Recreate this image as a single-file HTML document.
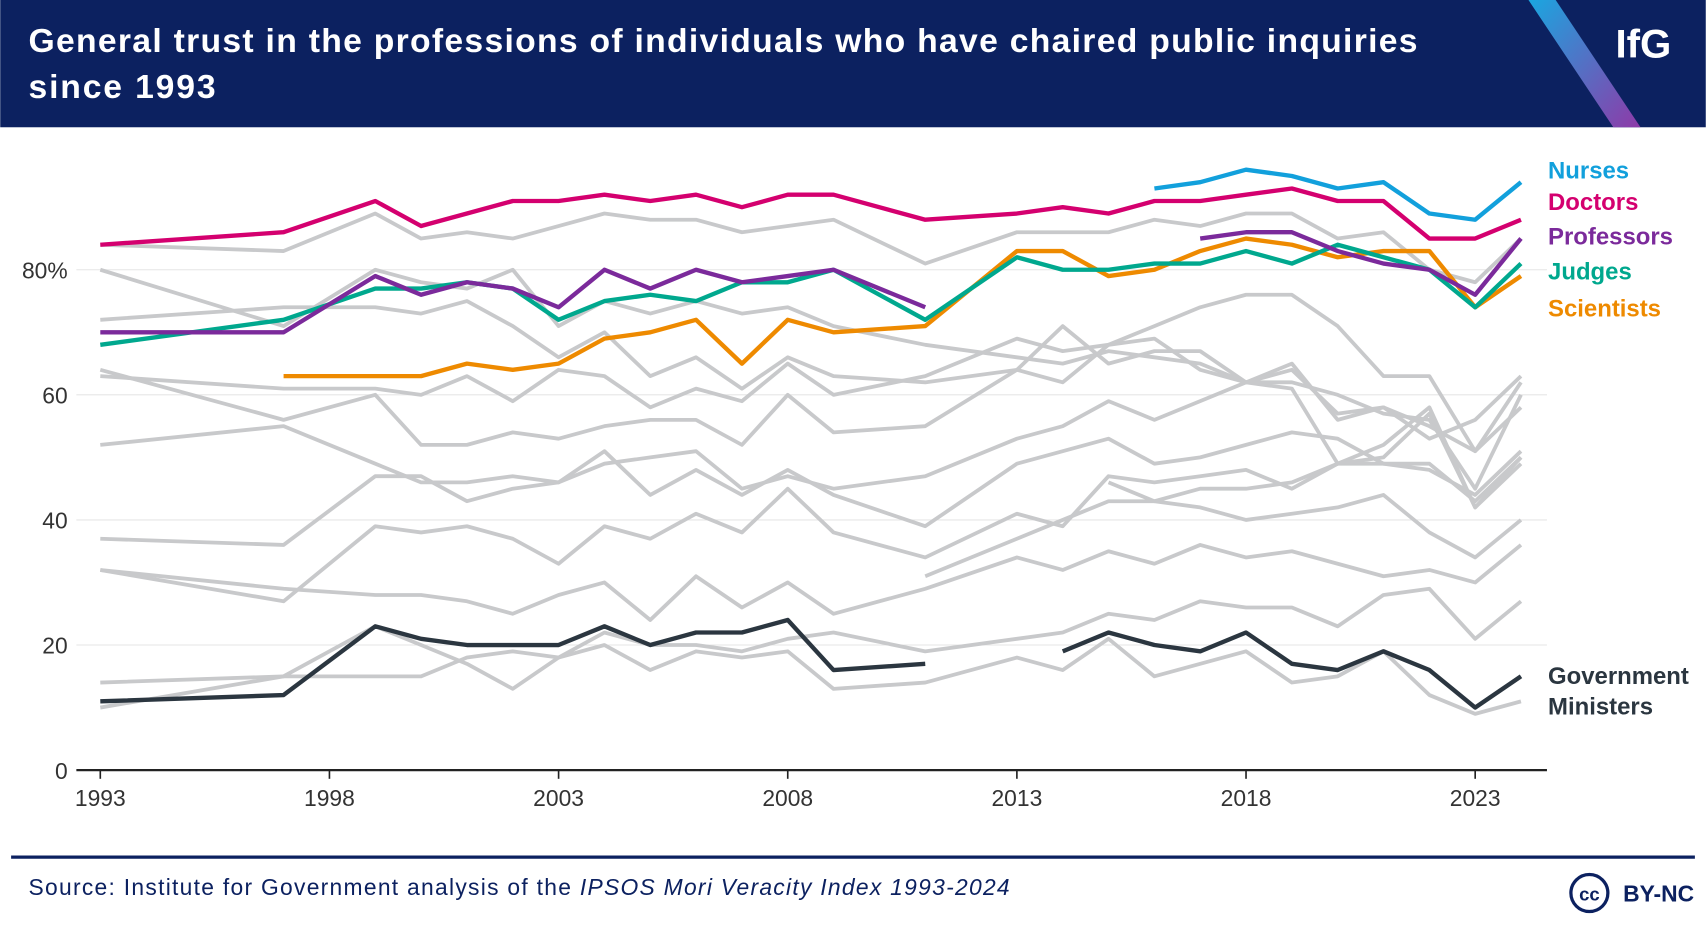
<!DOCTYPE html>
<html><head><meta charset="utf-8"><style>
html,body{margin:0;padding:0;background:#fff;}
svg{display:block;font-family:"Liberation Sans",sans-serif;}
</style></head><body>
<svg id="chart" width="1706" height="930" viewBox="0 0 1568 855" xmlns="http://www.w3.org/2000/svg">
<defs><linearGradient id="lg" x1="0" y1="0" x2="1" y2="1"><stop offset="0" stop-color="#1aa6e0"/><stop offset="1" stop-color="#8e3aa8"/></linearGradient></defs>
<rect x="0" y="0" width="1568" height="117" fill="#0c2160"/>
<text fill="#fff" font-weight="bold" font-size="31"><tspan x="26" y="48" textLength="1277" lengthAdjust="spacing">General trust in the professions of individuals who have chaired public inquiries</tspan><tspan x="26" y="90" textLength="172" lengthAdjust="spacing">since 1993</tspan></text>
<polygon points="1405,0 1430,0 1508,117 1483,117" fill="url(#lg)"/>
<text x="1485" y="53" fill="#fff" font-weight="bold" font-size="37">IfG</text>
<g id="grid"></g>
<g id="greys"></g>
<g id="mains"></g>
<g id="axes"></g>
<line x1="10" y1="788" x2="1558" y2="788" stroke="#0c2160" stroke-width="3"/>
<text x="26" y="823" font-size="21" fill="#0c2160" textLength="902" lengthAdjust="spacing">Source: Institute for Government analysis of the <tspan font-style="italic">IPSOS Mori Veracity Index 1993-2024</tspan></text>
<g><circle cx="1461" cy="821" r="17" fill="none" stroke="#0c2160" stroke-width="3"/><text x="1461" y="828" text-anchor="middle" font-size="17" font-weight="bold" fill="#0c2160">cc</text><text x="1492" y="829" font-size="21" font-weight="bold" fill="#0c2160">BY-NC</text></g>
</svg>
<script>
const years=[1993,1997,1999,2000,2001,2002,2003,2004,2005,2006,2007,2008,2009,2011,2013,2014,2015,2016,2017,2018,2019,2020,2021,2022,2023,2024];
const yTicks=[0,20,40,60,80];
const xTicks=[1993,1998,2003,2008,2013,2018,2023];
const n=null;
const doctors=[84,86,91,87,89,91,91,92,91,92,90,92,92,88,89,90,89,91,91,92,93,91,91,85,85,88];
const nurses=[n,n,n,n,n,n,n,n,n,n,n,n,n,n,n,n,n,93,94,96,95,93,94,89,88,94];
const professors=[70,70,79,76,78,77,74,80,77,80,78,79,80,74,n,n,n,n,85,86,86,83,81,80,76,85];
const judges=[68,72,77,77,78,77,72,75,76,75,78,78,80,72,82,80,80,81,81,83,81,84,82,80,74,81];
const scientists=[n,63,63,63,65,64,65,69,70,72,65,72,70,71,83,83,79,80,83,85,84,82,83,83,74,79];
const ministers=[11,12,23,21,20,20,20,23,20,22,22,24,16,17,n,19,22,20,19,22,17,16,19,16,10,15];
const greySeries=[
[84,83,89,85,86,85,87,89,88,88,86,87,88,81,86,86,86,88,87,89,89,85,86,80,78,85],
[80,71,80,78,77,80,71,75,73,75,73,74,71,68,66,65,67,66,65,62,62,60,57,56,45,60],
[72,74,74,73,75,71,66,70,63,66,61,66,63,62,64,71,65,67,67,62,65,56,58,53,56,63],
[63,61,61,60,63,59,64,63,58,61,59,65,60,63,69,67,68,69,64,62,64,57,58,55,51,58],
[64,56,60,52,52,54,53,55,56,56,52,60,54,55,64,62,68,71,74,76,76,71,63,63,51,62],
[52,55,49,46,46,47,46,51,44,48,44,48,44,39,49,51,53,49,50,52,54,53,49,48,44,51],
[37,36,47,47,43,45,46,49,50,51,45,47,45,47,53,55,59,56,59,62,61,49,49,49,43,50],
[32,27,39,38,39,37,33,39,37,41,38,45,38,34,41,39,47,46,47,48,45,49,50,57,42,49],
[32,29,28,28,27,25,28,30,24,31,26,30,25,29,34,32,35,33,36,34,35,33,31,32,30,36],
[14,15,15,15,18,19,18,22,20,20,19,21,22,19,21,22,25,24,27,26,26,23,28,29,21,27],
[10,15,23,20,17,13,18,20,16,19,18,19,13,14,18,16,21,15,17,19,14,15,19,12,9,11],
[n,n,n,n,n,n,n,n,n,n,n,n,n,31,37,40,43,43,45,45,46,49,52,58,42,50],
[n,n,n,n,n,n,n,n,n,n,n,n,n,n,n,n,46,43,42,40,41,42,44,38,34,40]
];
const NS="http://www.w3.org/2000/svg";
const X=y=>92+(y-1993)*(1264/30);
const Y=v=>708-v*5.75;
function mk(tag,at,parent){const e=document.createElementNS(NS,tag);for(const k in at)e.setAttribute(k,at[k]);parent.appendChild(e);return e;}
const grid=document.getElementById('grid'),axes=document.getElementById('axes');
yTicks.forEach(t=>{
 if(t>0){const l=mk('line',{x1:70,x2:1422,y1:Y(t),y2:Y(t),stroke:'#e6e6e6','stroke-width':1},grid);
 
 }
 const tx=mk('text',{x:62,y:Y(t)+8,'text-anchor':'end','font-size':21,fill:'#333'},axes);
 tx.textContent=t===80?'80%':String(t);
 
 
});
const ax=mk('line',{x1:70,x2:1422,y1:708,y2:708,stroke:'#222','stroke-width':2},axes);


xTicks.forEach(t=>{
 const tk=mk('line',{x1:X(t),x2:X(t),y1:708,y2:716,stroke:'#222','stroke-width':1.5},axes);
 
 
 const tx=mk('text',{x:X(t),y:741,'text-anchor':'middle','font-size':21,fill:'#333'},axes);
 tx.textContent=t;
 
 
});
function paths(vals){let d='',pen=false;vals.forEach((v,i)=>{if(v===null){pen=false;return;}d+=(pen?'L':'M')+X(years[i]).toFixed(1)+','+Y(v).toFixed(1);pen=true;});return d;}
const gg=document.getElementById('greys');
greySeries.forEach((s,i)=>{
 const p=mk('path',{d:paths(s),fill:'none',stroke:'#c8c9cb','stroke-width':3.5,'stroke-linejoin':'round'},gg);
 
 
});
const mg=document.getElementById('mains');
const mains=[['ministers',ministers,'#2b3640',['Government','Ministers'],622],['scientists',scientists,'#ee8a00',['Scientists'],284],['judges',judges,'#00a88e',['Judges'],250],['professors',professors,'#7b2a9b',['Professors'],218],['doctors',doctors,'#d4006f',['Doctors'],186],['nurses',nurses,'#12a0dc',['Nurses'],157]];
mains.forEach(m=>{
 const p=mk('path',{d:paths(m[1]),fill:'none',stroke:m[2],'stroke-width':4,'stroke-linejoin':'round'},mg);
 
 
 const t=mk('text',{x:1423,y:m[4]+7,'font-size':22,'font-weight':'bold',fill:m[2]},mg);
 m[3].forEach((s,i)=>{const ts=mk('tspan',{x:1423,dy:i?28:0},t);ts.textContent=s;});
 
 
});
</script>
</body></html>
